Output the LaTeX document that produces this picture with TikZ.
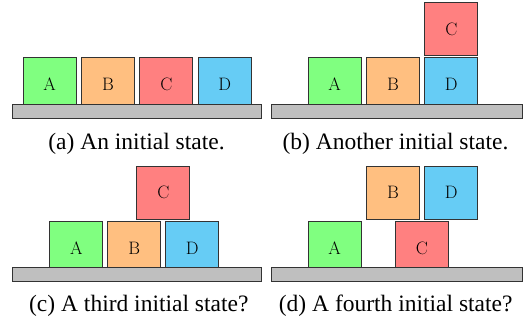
\documentclass[tikz,border=0pt]{standalone}
\usepackage{fontspec}
\newfontfamily\capfont{Liberation Serif}
\definecolor{bgreen}{HTML}{80FF80}
\definecolor{borange}{HTML}{FFBF80}
\definecolor{bred}{HTML}{FF8080}
\definecolor{bblue}{HTML}{66CCF5}
\definecolor{tgray}{HTML}{BFBFBF}
\definecolor{edge}{HTML}{333333}
\tikzset{
  blk/.style={draw=edge, line width=1pt, minimum size=53pt, inner sep=0pt, anchor=north west, font=\fontsize{18}{20}\selectfont},
  ga/.style={blk, fill=bgreen},
  gb/.style={blk, fill=borange},
  gc/.style={blk, fill=bred},
  gd/.style={blk, fill=bblue},
  tbl/.style={draw=edge, line width=1pt, fill=tgray, minimum width=249pt, minimum height=13.4pt, inner sep=0pt, anchor=north west},
  capt/.style={anchor=base, inner sep=0pt, font=\capfont\fontsize{23.5}{26}\selectfont}
}
\begin{document}
\begin{tikzpicture}[x=1pt,y=-1pt]
\useasboundingbox (0,0) rectangle (526,324);
% (a)
\node[ga] (aA) at (22.7,57.3) {A};
\node[gb] (aB) at (81,57.3) {B};
\node[gc] (aC) at (139.3,57.3) {C};
\node[gd] (aD) at (197.7,57.3) {D};
\node[tbl] (aT) at (11.7,104.3) {};
\node[capt] (aCap) at (136.5,149.3) {(a) An initial state.};
% (b)
\node[ga] (bA) at (307.7,57.3) {A};
\node[gb] (bB) at (366,57.3) {B};
\node[gd] (bD) at (424.3,57.3) {D};
\node[gc] (bC) at (424.3,2.3) {C};
\node[tbl, minimum width=251pt] (bT) at (270.7,104.3) {};
\node[capt] (bCap) at (395.5,149.3) {(b) Another initial state.};
% (c)
\node[ga] (cA) at (49.3,221) {A};
\node[gb] (cB) at (107.3,221) {B};
\node[gd] (cD) at (165.3,221) {D};
\node[gc] (cC) at (136.3,165.7) {C};
\node[tbl] (cT) at (11.7,267.3) {};
\node[capt] (cCap) at (138.8,311.6) {(c) A third initial state?};
% (d)
\node[ga] (dA) at (307.7,221) {A};
\node[gc] (dC) at (395,221) {C};
\node[gb] (dB) at (366,165.7) {B};
\node[gd] (dD) at (424.3,165.7) {D};
\node[tbl, minimum width=251pt] (dT) at (270.7,267.3) {};
\node[capt] (dCap) at (395.7,311.6) {(d) A fourth initial state?};
\end{tikzpicture}
\end{document}
